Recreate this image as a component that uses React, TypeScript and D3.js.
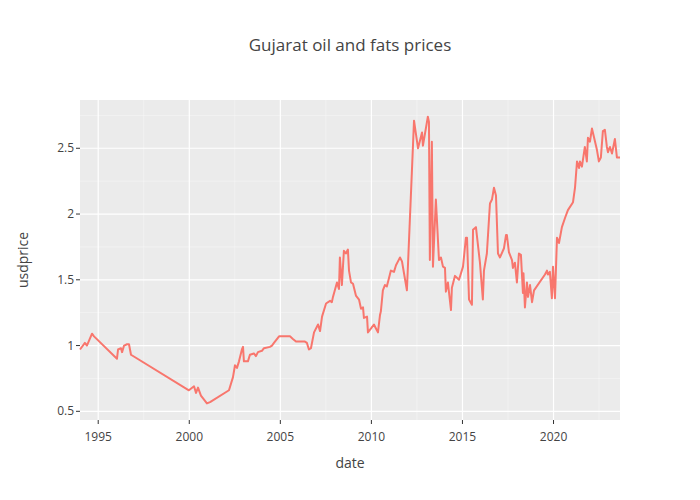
import * as d3 from "d3";

// decimal year, usd price
const years = [
  1994.0, 1994.27, 1994.38, 1994.66, 1994.77, 1996.03, 1996.09, 1996.25, 1996.31, 1996.42, 1996.58, 1996.69, 1996.8,
  1999.98, 2000.26, 2000.37, 2000.48, 2000.64, 2000.97, 2001.14, 2002.18, 2002.4, 2002.51, 2002.62, 2002.73, 2002.89,
  2002.95, 2003.0, 2003.22, 2003.33, 2003.55, 2003.66, 2003.77, 2003.99, 2004.1, 2004.43, 2004.54, 2004.65, 2004.93,
  2005.09, 2005.53, 2005.69, 2005.86, 2006.35, 2006.46, 2006.57, 2006.68, 2006.85, 2007.07, 2007.18, 2007.29, 2007.51,
  2007.73, 2007.83, 2007.89, 2008.11, 2008.22, 2008.27, 2008.38, 2008.49, 2008.6, 2008.71, 2008.77, 2008.88, 2008.99,
  2009.15, 2009.32, 2009.43, 2009.54, 2009.59, 2009.76, 2009.81, 2009.98, 2010.14, 2010.25, 2010.36, 2010.47, 2010.52,
  2010.63, 2010.74, 2010.85, 2010.96, 2011.07, 2011.24, 2011.35, 2011.46, 2011.57, 2011.68, 2011.79, 2011.95, 2012.34,
  2012.56, 2012.78, 2012.83, 2012.94, 2013.1, 2013.16, 2013.21, 2013.32, 2013.38, 2013.54, 2013.6, 2013.71, 2013.82,
  2013.93, 2014.04, 2014.09, 2014.2, 2014.37, 2014.42, 2014.59, 2014.81, 2015.03, 2015.19, 2015.25, 2015.36, 2015.52,
  2015.58, 2015.74, 2015.96, 2016.12, 2016.18, 2016.34, 2016.51, 2016.62, 2016.73, 2016.84, 2016.95, 2017.06, 2017.28,
  2017.39, 2017.44, 2017.55, 2017.72, 2017.77, 2017.88, 2017.99, 2018.1, 2018.21, 2018.32, 2018.35, 2018.43, 2018.54,
  2018.6, 2018.71, 2018.82, 2018.93, 2019.53, 2019.64, 2019.69, 2019.8, 2019.91, 2019.97, 2020.08, 2020.19, 2020.3,
  2020.46, 2020.63, 2020.79, 2021.07, 2021.18, 2021.29, 2021.4, 2021.45, 2021.56, 2021.72, 2021.83, 2021.89, 2022.0,
  2022.11, 2022.38, 2022.49, 2022.6, 2022.71, 2022.82, 2022.93, 2022.99, 2023.1, 2023.21, 2023.37, 2023.48, 2023.65,
];
const prices = [
  0.97, 1.02, 1.0, 1.09, 1.07, 0.9, 0.97, 0.98, 0.95, 1.0, 1.01, 1.01, 0.93,
  0.66, 0.69, 0.64, 0.68, 0.62, 0.56, 0.57, 0.66, 0.76, 0.85, 0.83, 0.88, 0.97,
  0.99, 0.88, 0.88, 0.93, 0.94, 0.92, 0.95, 0.96, 0.98, 0.99, 1.0, 1.02, 1.07,
  1.07, 1.07, 1.05, 1.03, 1.03, 1.02, 0.97, 0.98, 1.1, 1.16, 1.11, 1.22, 1.32,
  1.34, 1.33, 1.37, 1.48, 1.43, 1.67, 1.46, 1.72, 1.7, 1.73, 1.57, 1.48, 1.47,
  1.38, 1.35, 1.28, 1.29, 1.21, 1.22, 1.1, 1.13, 1.16, 1.13, 1.1, 1.23, 1.26,
  1.42, 1.46, 1.45, 1.51, 1.57, 1.56, 1.61, 1.64, 1.67, 1.64, 1.55, 1.42, 2.71,
  2.5, 2.62, 2.52, 2.61, 2.74, 2.7, 1.65, 2.55, 1.6, 2.11, 1.95, 1.65, 1.67,
  1.6, 1.59, 1.41, 1.48, 1.27, 1.44, 1.53, 1.5, 1.6, 1.82, 1.82, 1.35, 1.31,
  1.88, 1.9, 1.63, 1.35, 1.57, 1.7, 2.08, 2.11, 2.2, 2.14, 1.7, 1.67, 1.74,
  1.84, 1.84, 1.71, 1.65, 1.59, 1.63, 1.48, 1.7, 1.69, 1.4, 1.55, 1.29, 1.48,
  1.37, 1.46, 1.33, 1.42, 1.54, 1.57, 1.54, 1.56, 1.36, 1.6, 1.36, 1.82, 1.78,
  1.9, 1.97, 2.03, 2.09, 2.2, 2.4, 2.35, 2.4, 2.36, 2.51, 2.4, 2.58, 2.55,
  2.65, 2.49, 2.4, 2.43, 2.63, 2.64, 2.51, 2.47, 2.51, 2.46, 2.57, 2.43, 2.43,
];
const xTicks = [1995, 2000, 2005, 2010, 2015, 2020];
const yTicks = [0.5, 1, 1.5, 2, 2.5];

const W = 700;
const H = 500;
const m = { left: 80, right: 80, top: 100, bottom: 80 };

export default function App() {
  const x = d3.scaleLinear().domain([1994.0, 2023.65]).range([m.left, W - m.right]);
  const y = d3.scaleLinear().domain([0.434, 2.867]).range([H - m.bottom, m.top]);
  const pts = years.map((t, i) => [t, prices[i]] as [number, number]);
  const line = d3.line<[number, number]>().x((d) => x(d[0])).y((d) => y(d[1]));
  const font = "'Open Sans', verdana, arial, sans-serif";
  const minorX = xTicks.map((t) => t + 2.5).filter((t) => t < 2023.65);
  const minorY = yTicks.map((t) => t + 0.25).filter((t) => t < 2.867);

  return (
    <svg width={W} height={H} style={{ position: "absolute", left: 0, top: 0, fontFamily: font }}>
      <rect width={W} height={H} fill="white" />
      <rect x={m.left} y={m.top} width={W - m.left - m.right} height={H - m.top - m.bottom} fill="#ebebeb" />
      {minorX.map((t) => (
        <line key={"mx" + t} x1={x(t)} x2={x(t)} y1={m.top} y2={H - m.bottom} stroke="white" strokeWidth={0.6} opacity={0.6} />
      ))}
      {minorY.map((t) => (
        <line key={"my" + t} y1={y(t)} y2={y(t)} x1={m.left} x2={W - m.right} stroke="white" strokeWidth={0.6} opacity={0.6} />
      ))}
      {xTicks.map((t) => (
        <g key={"x" + t}>
          <line x1={x(t)} x2={x(t)} y1={m.top} y2={H - m.bottom} stroke="white" strokeWidth={1.2} />
          <line x1={x(t)} x2={x(t)} y1={H - m.bottom} y2={H - m.bottom + 4} stroke="#333" strokeWidth={1} />
          <text x={x(t)} y={H - m.bottom + 21} textAnchor="middle" fontSize={12} fill="#444">{t}</text>
        </g>
      ))}
      {yTicks.map((t) => (
        <g key={"y" + t}>
          <line y1={y(t)} y2={y(t)} x1={m.left} x2={W - m.right} stroke="white" strokeWidth={1.2} />
          <line y1={y(t)} y2={y(t)} x1={m.left - 4} x2={m.left} stroke="#333" strokeWidth={1} />
          <text x={m.left - 6} y={y(t) + 4} textAnchor="end" fontSize={12} fill="#444">{t}</text>
        </g>
      ))}
      <path d={line(pts) ?? ""} fill="none" stroke="#F8766D" strokeWidth={2} strokeLinejoin="round" />
      <text x={350} y={51} textAnchor="middle" fontSize={17} fill="#444">Gujarat oil and fats prices</text>
      <text x={350} y={468} textAnchor="middle" fontSize={14} fill="#444">date</text>
      <text transform={`translate(28,260) rotate(-90)`} textAnchor="middle" fontSize={14} fill="#444">usdprice</text>
    </svg>
  );
}
